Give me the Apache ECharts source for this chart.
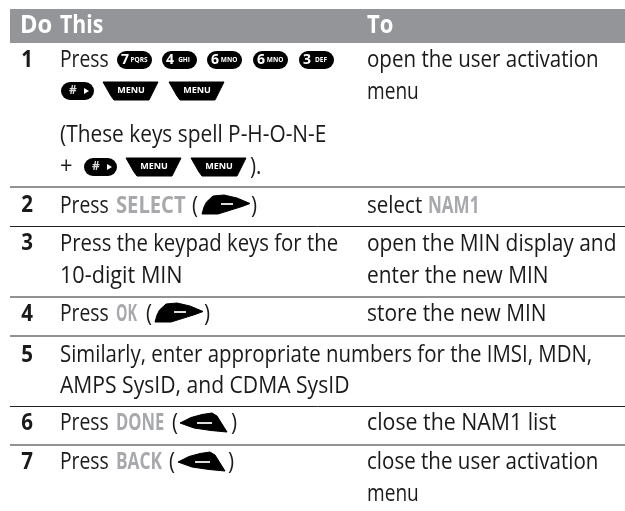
<!DOCTYPE html>
<html><head><meta charset="utf-8">
<style>html,body{margin:0;padding:0;background:#fff}#c{width:625px;height:511px}</style>
<script src="https://cdn.jsdelivr.net/npm/echarts@6/dist/echarts.min.js"></script>
</head><body><div id="c"></div>
<script>
const headers = ['Do','This','To'];
const stepNumbers = ['1','2','3','4','5','6','7'];
const doLines = ['Press','(These keys spell P-H-O-N-E','+','Press','Press the keypad keys for the','10-digit MIN','Press','Similarly, enter appropriate numbers for the IMSI, MDN,','AMPS SysID, and CDMA SysID','Press','Press'];
const toLines = ['open the user activation','menu','select','open the MIN display and','enter the new MIN','store the new MIN','close the NAM1 list','close the user activation','menu'];
const displayWords = ['SELECT','OK','DONE','BACK','NAM1'];
const keyLabels = [['7','PQRS'],['4','GHI'],['6','MNO'],['6','MNO'],['3','DEF'],['#','▸'],'MENU'];

const F='"Open Sans"', G='#a7a9ac', K='#1a1a1a', SX=.893, D='"Open Sans"';
const els=[];
function T(x,y,s,o={}){els.push({type:'text',x,y,silent:true,scaleX:o.sx||SX,z:o.z||5,style:{text:s,x:0,y:0,font:(o.b?'bold ':'')+(o.size||23)+'px '+(o.f||F),fill:o.c||K,align:o.a||'left',verticalAlign:'middle'}});}
function L(y,c,w){els.push({type:'line',shape:{x1:10,y1:y,x2:625,y2:y},silent:true,style:{stroke:c,lineWidth:w}});}
function pill(x,y,w,h,main,sub){
  els.push({type:'rect',shape:{x,y,width:w,height:h,r:[h/2]},silent:true,style:{fill:'#000'}});
  T(x+w*0.23,y+h/2,main,{b:1,size:14,f:D,c:'#fff',a:'center',sx:1,z:6});
  T(x+w*0.63,y+h/2,sub,{b:1,size:6.5,f:D,c:'#fff',a:'center',sx:1,z:6});
}
function hashKey(x,y){
  els.push({type:'rect',shape:{x,y,width:33,height:18,r:9},silent:true,style:{fill:'#000'}});
  T(x+12,y+9,keyLabels[5][0],{b:1,size:12,f:D,c:'#ddd',a:'center',sx:1,z:6});
  els.push({type:'polygon',shape:{points:[[x+23,y+6],[x+23,y+12],[x+28,y+9]]},silent:true,z:6,style:{fill:'#fff'}});
}
function menu(x,y){
  els.push({type:'polygon',shape:{points:[[x,y],[x+55,y],[x+48,y+14],[x+46,y+18],[x+11,y+18],[x+8,y+14]]},silent:true,style:{fill:'#000',stroke:'#000',lineWidth:1,lineJoin:'round'}});
  T(x+28,y+8,keyLabels[6],{b:1,size:9.5,f:D,c:'#fff',a:'center',sx:.95,z:6});
}
const softRight=[[0,19],[2,12],[4.5,7],[11,1],[22,0],[35,3],[48,8.5],[40,11.5],[32,14],[16,19]];
const softLeft=[[0,10],[11,4.5],[22,1.5],[32,0],[37,3],[42,11],[47,19],[31,17.5],[14,15]];
function softR(x,y){
  els.push({type:'polygon',shape:{points:softRight.map(p=>[x+p[0],y+p[1]])},silent:true,style:{fill:'#000',stroke:'#000',lineWidth:1,lineJoin:'round'}});
  els.push({type:'rect',shape:{x:x+19,y:y+8,width:12,height:2},silent:true,z:6,style:{fill:'#ddd'}});
}
function softL(x,y){
  els.push({type:'polygon',shape:{points:softLeft.map(p=>[x+p[0],y+p[1]])},silent:true,style:{fill:'#000',stroke:'#000',lineWidth:1,lineJoin:'round'}});
  els.push({type:'rect',shape:{x:x+17,y:y+9,width:15,height:2},silent:true,z:6,style:{fill:'#ddd'}});
}
// header
els.push({type:'rect',shape:{x:10,y:9,width:615,height:34},silent:true,style:{fill:'#939598'}});
T(20,26,headers[0],{b:1,size:25,c:'#fff',sx:.95});
T(60,26,headers[1],{b:1,size:25,c:'#fff',sx:.85});
T(367,26,headers[2],{b:1,size:25,c:'#fff',sx:.88});
// rules
[[187,'#6d6e71',1.4],[226.5,'#222',1],[297,'#6d6e71',1.4],[336,'#6d6e71',1.4],[406.5,'#222',1],[445,'#6d6e71',1.4]].forEach(r=>L(r[0],r[1],r[2]));
// step numbers
[[27,60],[27,205],[27,243],[27,314],[27,355],[27,423],[27,462]].forEach((p,i)=>T(p[0],p[1],stepNumbers[i],{b:1,size:23,a:'center'}));
// left column
const dy=[60,135,167,206,244,276,314,355,386,423,462];
const dsx=[.84,.907,.95,.84,.885,.94,.84,.888,.918,.84,.84];
doLines.forEach((s,i)=>T(60,dy[i],s,{sx:dsx[i]}));
// display words + brackets
T(116,206,displayWords[0],{b:1,c:G,size:24,sx:.84}); T(192,206,'('); softR(202,195); T(251,206,')');
T(116,314,displayWords[1],{b:1,c:G,size:24,sx:.6}); T(146,314,'('); softR(155,303); T(204,314,')');
T(116,423,displayWords[2],{b:1,c:G,size:24,sx:.69}); T(172,423,'('); softL(180,413); T(231,423,')');
T(116,462,displayWords[3],{b:1,c:G,size:24,sx:.72}); T(169,462,'('); softL(178,452); T(228,462,')');
// keys
[[117,0],[162,1],[207,2],[253,3],[299,4]].forEach(k=>pill(k[0],51,35,18,keyLabels[k[1]][0],keyLabels[k[1]][1]));
hashKey(61,82); menu(103,82); menu(169,82);
hashKey(84,158); menu(126,158); menu(191,158);
T(250,167,').');
// right column
const ty=[60,92,206,244,276,314,423,462,494];
const tsx=[.893,.83,.893,.909,.908,.908,.927,.893,.83];
toLines.forEach((s,i)=>T(367,ty[i],s,{sx:tsx[i]}));
T(428,206,displayWords[4],{b:1,c:G,size:24,sx:.71});
echarts.init(document.getElementById('c'),null,{renderer:'canvas'}).setOption({animation:false,backgroundColor:'#fff',graphic:{elements:els}});
</script></body></html>
